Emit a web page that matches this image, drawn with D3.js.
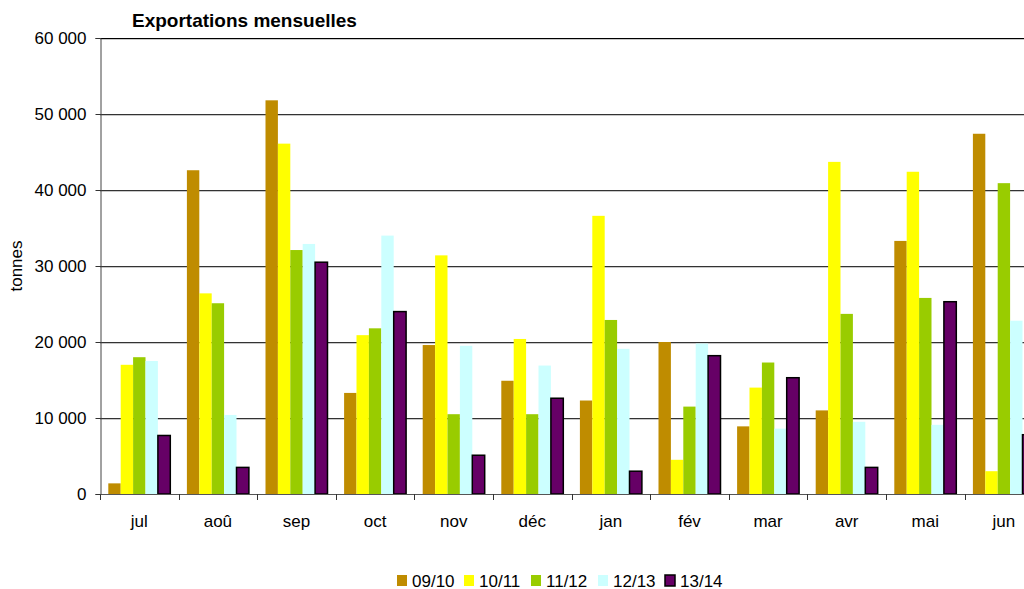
<!DOCTYPE html>
<html>
<head>
<meta charset="utf-8">
<script src="https://cdn.jsdelivr.net/npm/d3@7"></script>
<style>
  body { margin: 0; background: #fff; }
  svg { display: block; font-family: "Liberation Sans", Arial, sans-serif; }
</style>
</head>
<body>
<div id="chart"></div>
<script>
// mois (campagne juillet -> juin)
const months = ["jul", "aoû", "sep", "oct", "nov", "déc", "jan", "fév", "mar", "avr", "mai", "jun"];
const seasons = ["09/10", "10/11", "11/12", "12/13", "13/14"];
const colors = ["#bf8c00", "#ffff00", "#99cc00", "#ccffff", "#660066"];

// exportations en tonnes, une liste par campagne
const s0910 = [1400, 42600, 51800, 13300, 19600, 14900, 12300, 20000, 8900, 11000, 33300, 47400];
const s1011 = [17000, 26400, 46100, 20900, 31400, 20400, 36600, 4500, 14000, 43700, 42400, 3000];
const s1112 = [18000, 25100, 32100, 21800, 10500, 10500, 22900, 11500, 17300, 23700, 25800, 40900];
const s1213 = [17500, 10400, 32900, 34000, 19500, 16900, 19100, 19800, 8600, 9500, 9100, 22800];
const s1314 = [7700, 3500, 30500, 24000, 5100, 12600, 3000, 18200, 15300, 3500, 25300, 7800];
const series = [s0910, s1011, s1112, s1213, s1314];

const yTicks = [0, 10000, 20000, 30000, 40000, 50000, 60000];

const width = 1024, height = 589;
const marginLeft = 100, plotTop = 38, plotBottom = 494;
const bandW = 78.6;

const svg = d3.select("#chart").append("svg")
  .attr("width", width)
  .attr("height", height);

const x = d3.scaleBand()
  .domain(months)
  .range([marginLeft, marginLeft + bandW * months.length]);

const xs = d3.scaleBand()
  .domain(seasons)
  .range([8.3, bandW - 8.3]);

const y = d3.scaleLinear()
  .domain([0, 60000])
  .range([plotBottom, plotTop]);

const fmt = v => d3.format(",")(v).replace(/,/g, " ");

// grille horizontale
const grid = svg.append("g");
grid.selectAll("line.shadow")
  .data(yTicks.filter(d => d > 0))
  .join("line")
  .attr("class", "shadow")
  .attr("x1", marginLeft).attr("x2", width)
  .attr("y1", d => y(d) + 1.5).attr("y2", d => y(d) + 1.5)
  .attr("stroke", "#c8c8c8")
  .attr("stroke-width", 1);
grid.selectAll("line.main")
  .data(yTicks.filter(d => d > 0))
  .join("line")
  .attr("class", "main")
  .attr("x1", marginLeft).attr("x2", width)
  .attr("y1", d => y(d) + 0.5).attr("y2", d => y(d) + 0.5)
  .attr("stroke", d => d === 60000 ? "#000" : "#333")
  .attr("stroke-width", 1);

// barres
const groups = svg.append("g")
  .selectAll("g")
  .data(seasons)
  .join("g")
  .attr("fill", (d, i) => colors[i]);

groups.selectAll("rect")
  .data((s, i) => months.map((m, j) => ({ season: s, month: m, value: series[i][j] })))
  .join("rect")
  .attr("x", d => x(d.month) + xs(d.season))
  .attr("y", d => y(d.value))
  .attr("width", xs.bandwidth())
  .attr("height", d => plotBottom - y(d.value))
  .attr("stroke", d => d.season === "13/14" ? "#000" : "none")
  .attr("stroke-width", 1.5);

// axe des x
const xAxis = d3.axisBottom(x).tickSize(0).tickPadding(0);
const gx = svg.append("g")
  .attr("transform", `translate(0,${plotBottom})`)
  .call(xAxis);
gx.select(".domain").remove();
gx.selectAll("text")
  .attr("y", 33)
  .attr("dy", null)
  .attr("fill", "#000")
  .style("font-size", "17px")
  .style("font-family", "Liberation Sans, Arial, sans-serif");

svg.append("line")
  .attr("x1", marginLeft).attr("x2", width)
  .attr("y1", plotBottom + 0.5).attr("y2", plotBottom + 0.5)
  .attr("stroke", "#555");
svg.append("g")
  .selectAll("line")
  .data(months)
  .join("line")
  .attr("x1", d => Math.round(x(d)) + 0.5)
  .attr("x2", d => Math.round(x(d)) + 0.5)
  .attr("y1", plotBottom)
  .attr("y2", plotBottom + 6)
  .attr("stroke", "#333");

// axe des y
const yAxis = d3.axisLeft(y).tickValues(yTicks).tickSize(5).tickPadding(9).tickFormat(fmt);
const gy = svg.append("g")
  .attr("transform", `translate(${marginLeft + 0.5},0)`)
  .call(yAxis);
gy.select(".domain").attr("stroke", "#444");
gy.selectAll(".tick line").attr("stroke", "#333");
gy.selectAll("text")
  .attr("fill", "#000")
  .style("font-size", "17px")
  .style("font-family", "Liberation Sans, Arial, sans-serif");

svg.append("text")
  .attr("transform", "translate(22,266) rotate(-90)")
  .attr("text-anchor", "middle")
  .style("font-size", "17px")
  .text("tonnes");

// titre
svg.append("text")
  .attr("x", 132)
  .attr("y", 27)
  .style("font-size", "19px")
  .style("font-weight", "bold")
  .text("Exportations mensuelles");

// légende
const legend = svg.append("g")
  .selectAll("g")
  .data(seasons)
  .join("g")
  .attr("transform", (d, i) => `translate(${397 + i * 67},575)`);
legend.append("rect")
  .attr("width", 10)
  .attr("height", 11)
  .attr("fill", (d, i) => colors[i])
  .attr("stroke", d => d === "13/14" ? "#000" : "none")
  .attr("stroke-width", 1.5);
legend.append("text")
  .attr("x", 15)
  .attr("y", 11.5)
  .style("font-size", "17px")
  .text(d => d);
</script>
</body>
</html>
